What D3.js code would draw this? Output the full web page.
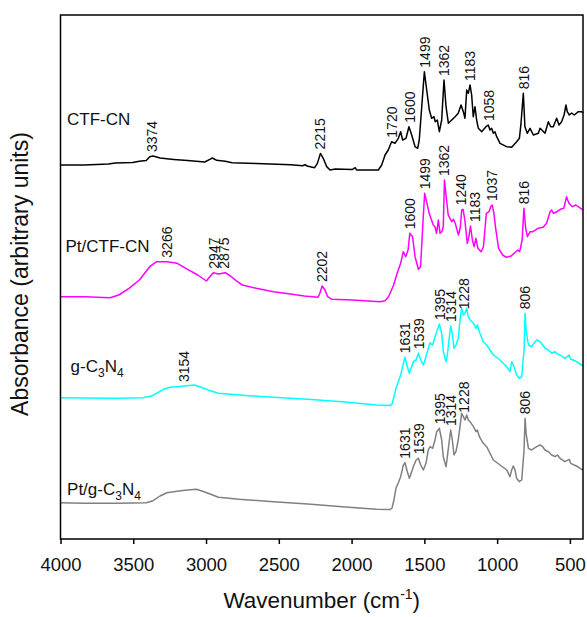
<!DOCTYPE html>
<html>
<head>
<meta charset="utf-8">
<script src="https://cdn.jsdelivr.net/npm/d3@7"></script>
<style>
  body { margin: 0; background: #fff; }
  svg { font-family: "Liberation Sans", Arial, sans-serif; }
</style>
</head>
<body>
<svg id="chart" width="587" height="617"></svg>
<script>
// FTIR spectra, [wavenumber (cm-1), absorbance (arb. units, stacked)]
const ctfCN = [
  [4000,374.0],[3836,374.0],[3671,375.0],[3623,376.0],[3505,376.6],[3458,377.7],[3411,378.4],[3387,382.3],[3364,383.0],[3316,381.0],
  [3222,379.6],[3127,378.4],[3009,377.0],[2974,379.6],[2957,381.0],[2927,378.7],[2868,377.7],[2821,376.3],[2655,375.6],[2419,374.3],
  [2336,373.3],[2320,374.3],[2306,373.0],[2254,371.3],[2235,375.6],[2214,385.6],[2195,380.7],[2171,372.4],[2148,369.0],[2112,370.0],
  [1994,369.6],[1975,371.3],[1966,369.0],[1816,369],[1793,374],[1770,384],[1748,389],[1725,397.3],[1702,395.7],[1679,400.7],
  [1663,407.3],[1649,399],[1626,400.7],[1606,412.3],[1587,404],[1564,392.3],[1546,390.7],[1535,399],[1518,432.3],[1500,467.3],
  [1484,449],[1466,429],[1450,420.7],[1434,422.3],[1425,417.3],[1411,419],[1397,407.3],[1381,419],[1365,459],[1351,432.3],
  [1335,415.7],[1312,419],[1289,422.3],[1267,425.7],[1248,434],[1232,427.3],[1221,420.7],[1209,449],[1198,445.7],[1186,454],
  [1175,444],[1164,422.3],[1152,432.3],[1141,419],[1129,410.7],[1106,407.3],[1077,412.3],[1061,414],[1049,409],[1038,410.7],
  [1026,405.7],[1015,407.3],[1003,402.3],[980,395.7],[935,392.3],[900,391.7],[866,397.3],[847,400.7],[836,415.7],[820,445.7],
  [809,412.3],[793,405.7],[774,410.7],[751,404],[717,405.7],[705,410.7],[671,405.7],[648,417.3],[632,412.3],[614,412.3],
  [591,420.7],[575,414],[557,417.3],[540,424],[527,434],[518,427.3],[504,424],[488,426],[470,424],[442,427.3],[419,427.3],[410,426]
];
const ptCtfCN = [
  [4000,242.3],[3836,242.3],[3659,241.3],[3600,244.0],[3529,250.7],[3458,259.0],[3387,272.3],[3340,277.3],[3269,277.3],[3198,275.7],
  [3127,269.7],[3057,264.0],[2998,258.0],[2974,262.3],[2950,266.3],[2915,265.0],[2868,266.3],[2832,263.0],[2785,257.3],[2750,254.0],
  [2655,250.7],[2537,247.3],[2419,245.0],[2325,243.0],[2230,241.7],[2218,245.7],[2202,253.0],[2183,249.0],[2164,242.3],[2136,239.7],
  [1994,239.0],[1805,237.3],[1770,238.3],[1746,242.3],[1711,254.0],[1687,265.7],[1663,275.7],[1645,287.3],[1628,282.3],[1612,289.0],
  [1600,305.7],[1581,302.3],[1564,282.3],[1541,269.7],[1526,272.3],[1510,315.7],[1498,345.7],[1482,335.7],[1467,325.7],[1451,319.0],
  [1439,314.0],[1427,312.3],[1416,305.7],[1404,319.0],[1392,305.7],[1380,307.3],[1370,312.3],[1362,359.0],[1350,342.3],[1336,324.0],
  [1312,317.3],[1300,319.7],[1288,315.7],[1266,304.0],[1254,310.7],[1243,329.0],[1234,329.7],[1222,319.0],[1205,295.7],[1194,302.3],
  [1183,313.0],[1170,299.0],[1158,292.3],[1146,300.7],[1132,290.7],[1110,287.3],[1094,292.3],[1074,325.7],[1056,327.3],[1044,332.3],
  [1034,334.0],[1022,325.7],[1010,310.7],[990,290.7],[962,284.0],[938,281.7],[903,283.0],[880,286.3],[858,289.0],[845,287.3],
  [828,299.0],[816,330.7],[804,310.7],[792,302.3],[773,307.3],[755,307.3],[719,310.7],[684,311.7],[660,315.7],[636,327.3],
  [625,329.0],[613,325.7],[589,327.3],[566,329.7],[542,330.7],[523,342.3],[507,335.7],[483,332.3],[459,334.0],[436,331.7],[410,329.0]
];
const gC3N4 = [
  [4000,141.3],[3836,141.0],[3600,140.7],[3434,141.3],[3375,143.0],[3340,145.7],[3293,149.7],[3246,151.7],[3198,152.3],[3151,153.0],
  [3080,154.0],[3033,151.7],[2986,149.0],[2915,145.7],[2773,144.0],[2537,141.7],[2301,139.7],[2065,137.3],[1829,134.0],[1734,133.5],
  [1722,135],[1709,142.3],[1695,150.7],[1679,157.3],[1663,164],[1644,175.7],[1633,181.7],[1617,172.3],[1603,165.7],[1587,172.3],
  [1576,177.3],[1557,179],[1541,185.7],[1525,179],[1507,174],[1489,182.3],[1473,190.7],[1461,196.3],[1443,194],[1427,202.3],
  [1411,209],[1397,215],[1381,205.7],[1370,187.3],[1351,177.3],[1342,184],[1328,202.3],[1319,213],[1308,205.7],[1296,190.7],
  [1283,194],[1267,200.7],[1255,219],[1244,230.7],[1232,224],[1221,225.7],[1209,230.7],[1198,222.3],[1186,219],[1163,215.7],
  [1145,210.7],[1136,214],[1122,207.3],[1095,197.3],[1072,194],[1026,184],[980,179],[934,172.3],[912,167.3],[900,177.3],
  [889,174],[877,169],[866,164],[847,160.7],[831,162.3],[815,189],[808,225.7],[801,209],[785,194],[763,192.3],
  [747,195.7],[728,199],[705,197.3],[687,194],[671,190.7],[648,189],[625,185.7],[602,187.3],[586,185],[568,184],
  [534,180.7],[504,184],[495,179.7],[476,179],[454,177.3],[430,175],[410,173]
];
const ptGC3N4 = [
  [4000,36.3],[3836,35.7],[3600,35.7],[3411,36.3],[3364,38.3],[3316,43.0],[3269,46.3],[3222,47.3],[3175,48.3],[3127,49.0],
  [3068,49.7],[3033,48.3],[2986,45.7],[2915,41.7],[2773,39.7],[2537,37.3],[2301,35.0],[2065,32.3],[1829,29.7],[1734,29.5],
  [1722,31],[1709,39],[1695,50.7],[1679,56.3],[1663,62.3],[1644,74],[1633,76.3],[1617,67.3],[1603,60.7],[1587,67.3],
  [1576,72.3],[1557,79],[1541,80.7],[1525,74],[1507,69],[1489,75.7],[1473,89],[1461,92.3],[1443,90.7],[1427,99],
  [1415,107.3],[1397,110.7],[1381,99],[1370,82.3],[1351,72.3],[1342,82.3],[1328,99],[1319,109],[1308,99],[1296,84],
  [1283,87.3],[1267,99],[1255,112.3],[1244,125.7],[1232,122.3],[1221,119],[1209,124],[1198,119],[1186,117.3],[1163,112.3],
  [1145,107.3],[1136,109],[1122,102.3],[1095,95.7],[1072,92.3],[1026,79],[980,74],[934,69],[912,62.3],[900,69],
  [889,73],[877,69],[866,60.7],[847,57.3],[831,59],[815,89],[808,120.7],[801,105.7],[785,90.7],[763,89],
  [747,90.7],[728,92.3],[705,94],[687,92.3],[671,89],[648,87.3],[625,84],[602,82.3],[586,84],[568,80.7],
  [534,77.3],[504,79.7],[495,75.7],[476,74.3],[454,73],[430,70.7],[410,69]
];

// peak annotations (cm-1)
const ctfPeaks = [3374, 2215, 1720, 1600, 1499, 1362, 1183, 1058, 816];
const ptCtfPeaks = [3266, 2947, 2875, 2202, 1600, 1499, 1362, 1240, 1183, 1037, 816];
const gPeaks = [3154, 1631, 1539, 1395, 1314, 1228, 806];
const ptGPeaks = [3154, 1631, 1539, 1395, 1314, 1228, 806];

// sample names: [text, sub, text, sub] and anchor [wavenumber, absorbance]
const names = [["CTF-CN"], ["Pt/CTF-CN"], ["g-C", "3", "N", "4"], ["Pt/g-C", "3", "N", "4"]];
const nameAt = [[3955, 414], [3966, 287], [3931, 167], [3955, 44]];
const colors = ["#000000", "#ff00ff", "#00ffff", "#808080"];
const xTicks = [4000, 3500, 3000, 2500, 2000, 1500, 1000, 500];

const series = [
  { data: ctfCN, peaks: ctfPeaks, nudge: {} },
  { data: ptCtfCN, peaks: ptCtfPeaks, nudge: { 1183: 5, 1240: -1 } },
  { data: gC3N4, peaks: gPeaks, nudge: {} },
  { data: ptGC3N4, peaks: ptGPeaks, nudge: {} }
];

const svg = d3.select("#chart");
const x = d3.scaleLinear().domain([4000, 410]).range([60.5, 583]);
const y = d3.scaleLinear().domain([0, 524]).range([539, 15]);

const line = d3.line().x(d => x(d[0])).y(d => y(d[1]));

// curves
series.forEach((s, i) => {
  svg.append("path")
    .datum(s.data)
    .attr("fill", "none")
    .attr("stroke", colors[i])
    .attr("stroke-width", 1.5)
    .attr("stroke-linejoin", "round")
    .attr("d", line);
});

// peak labels, just above the local maximum
series.forEach((s) => {
  s.peaks.forEach(p => {
    const top = d3.max(s.data.filter(d => Math.abs(d[0] - p) <= 15), d => d[1]);
    const dx = s.nudge[p] || 0;
    svg.append("text")
      .attr("transform", "rotate(-90)")
      .attr("x", -(y(top) - 4))
      .attr("y", x(p) + 5 + dx)
      .attr("font-size", "14px")
      .attr("fill", "#111")
      .text(p);
  });
});

// sample names
names.forEach((n, i) => {
  const t = svg.append("text")
    .attr("x", x(nameAt[i][0]))
    .attr("y", y(nameAt[i][1]))
    .attr("font-size", "17px")
    .attr("fill", "#111");
  n.forEach((part, k) => {
    const sub = k % 2 === 1;
    t.append("tspan")
      .attr("font-size", sub ? "12px" : "17px")
      .attr("dy", k === 0 ? 0 : (sub ? 5 : -5))
      .text(part);
  });
});

// frame
svg.append("rect")
  .attr("x", x(4000)).attr("y", y(524))
  .attr("width", x(410) - x(4000)).attr("height", y(0) - y(524))
  .attr("fill", "none").attr("stroke", "#000").attr("stroke-width", 1.5);

// x axis
const xAxis = svg.append("g")
  .attr("transform", "translate(0," + y(0) + ")")
  .call(d3.axisBottom(x).tickValues(xTicks).tickSize(5).tickSizeOuter(0).tickPadding(13.5).tickFormat(d3.format("d")));
xAxis.select(".domain").remove();
xAxis.selectAll(".tick line").attr("stroke", "#000").attr("stroke-width", 1.5);
xAxis.selectAll(".tick text")
  .attr("font-family", "Liberation Sans, Arial, sans-serif")
  .attr("font-size", "18.5px").attr("fill", "#111");

// axis titles
const xt = svg.append("text")
  .attr("x", (x(4000) + x(410)) / 2).attr("y", 608)
  .attr("text-anchor", "middle").attr("font-size", "22.5px").attr("fill", "#111");
xt.append("tspan").text("Wavenumber (cm");
xt.append("tspan").attr("font-size", "14px").attr("dy", -9).text("-1");
xt.append("tspan").attr("dy", 9).text(")");

svg.append("text")
  .attr("transform", "rotate(-90)")
  .attr("x", -274).attr("y", 28)
  .attr("text-anchor", "middle").attr("font-size", "23px").attr("fill", "#111")
  .text("Absorbance (arbitrary units)");
</script>
</body>
</html>
